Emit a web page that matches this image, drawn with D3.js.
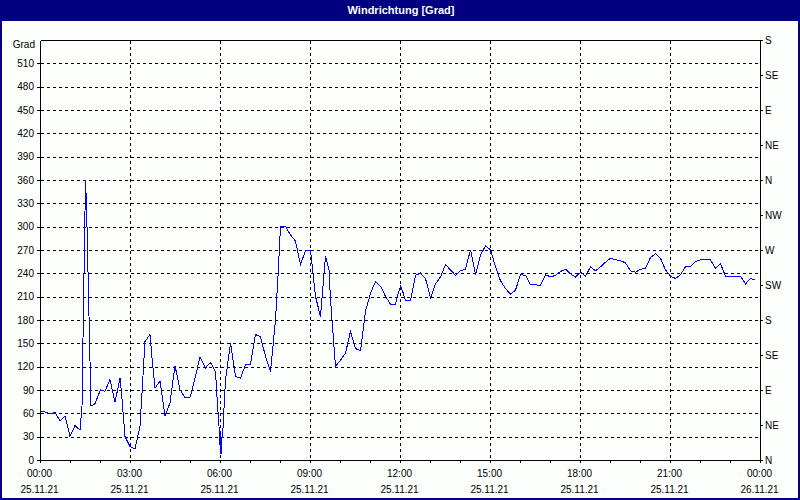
<!DOCTYPE html>
<html><head><meta charset="utf-8">
<script src="https://cdn.jsdelivr.net/npm/d3@7/dist/d3.min.js"></script>
<style>
html,body{margin:0;padding:0;background:#fff;}
svg{display:block;}
text{font-family:"Liberation Sans",Arial,sans-serif;font-size:10px;fill:#000;}
</style></head>
<body>
<svg id="chart" width="800" height="500"></svg>
<script>
const title = "Windrichtung [Grad]";
const unitLabel = "Grad";
const minutes = [0,5,10,20,29,39,49,59,69,79,83,86,90,92,96,101,109,120,129,133,139,149,159,162,169,179,189,199,203,209,219,224,229,239,249,259,269,279,289,299,309,319,330,340,350,353,357,359,360,361,362,365,370,380,390,400,410,420,430,440,450,460,470,475,480,490,500,510,520,530,540,550,560,570,577,580,590,600,610,620,630,640,650,660,670,680,690,700,710,713,720,725,730,740,750,760,770,780,790,800,810,820,830,840,850,860,870,880,890,900,910,920,930,940,950,960,970,980,990,1000,1010,1020,1030,1040,1050,1060,1070,1080,1090,1100,1110,1120,1130,1140,1150,1160,1170,1180,1190,1200,1210,1220,1230,1240,1250,1260,1270,1280,1290,1300,1310,1320,1330,1340,1350,1360,1370,1380,1390,1400,1410,1420,1430];
const grad = [62,63,62,60,62,51,57,31,45,39,70,200,360,330,215,70,73,91,89,95,104,75,106,87,31,18,15,44,87,153,162,125,93,102,57,74,122,91,81,81,106,133,119,126,114,82,44,20,38,8,22,42,104,151,108,106,123,124,162,159,134,114,181,237,301,301,290,282,252,270,270,211,185,263,245,207,121,129,138,166,144,141,192,215,230,224,211,201,200,210,224,216,206,206,238,241,234,209,227,236,252,245,238,244,246,271,239,264,276,271,249,231,221,214,219,239,238,226,226,225,239,236,238,243,246,240,236,242,237,249,244,249,255,260,258,257,254,244,242,246,247,261,266,260,245,237,234,239,249,249,256,258,259,258,247,253,237,237,237,237,227,234,232];
const yTicks = [0,30,60,90,120,150,180,210,240,270,300,330,360,390,420,450,480,510];
const compassDeg = [0,45,90,135,180,225,270,315,360,405,450,495,540];
const compassLabels = ["N","NE","E","SE","S","SW","W","NW","N","NE","E","SE","S"];
const timeTicks = [0,180,360,540,720,900,1080,1260,1440];
const timeLabels = ["00:00","03:00","06:00","09:00","12:00","15:00","18:00","21:00","00:00"];
const dateLabels = ["25.11.21","25.11.21","25.11.21","25.11.21","25.11.21","25.11.21","25.11.21","25.11.21","26.11.21"];
const hourTicks = d3.range(0,1441,60);

const svg = d3.select("#chart");
const navy = "#000080";
svg.append("rect").attr("x",0).attr("y",0).attr("width",800).attr("height",500).attr("fill",navy);
svg.append("rect").attr("x",2).attr("y",21).attr("width",796).attr("height",477).attr("fill","#fcfffc");
svg.append("text").attr("x",401).attr("y",14).attr("text-anchor","middle")
  .style("fill","#fff").style("font-weight","bold").style("font-size","11px").text(title);

const xA = d3.scaleLinear().domain([0,1440]).range([40,760]);
const yA = d3.scaleLinear().domain([0,540]).range([460,40]);
const x = d3.scaleLinear().domain([0,1440]).range([40.5,760.5]);
const y = d3.scaleLinear().domain([0,540]).range([460.5,40.5]);

const g = svg.append("g").attr("shape-rendering","crispEdges");
g.selectAll(".hg").data(yTicks.filter(v=>v>0)).enter().append("line")
  .attr("x1",x(0)).attr("x2",x(1440)).attr("y1",d=>y(d)).attr("y2",d=>y(d))
  .attr("stroke","#000").attr("stroke-dasharray","3,3");
g.selectAll(".vg").data(timeTicks.slice(1,-1)).enter().append("line")
  .attr("x1",d=>x(d)).attr("x2",d=>x(d)).attr("y1",y(540)).attr("y2",y(0))
  .attr("stroke","#000").attr("stroke-dasharray","3,3");
g.append("line").attr("x1",x(0)).attr("x2",x(1440)).attr("y1",y(540)).attr("y2",y(540)).attr("stroke","#000");

const la = svg.append("g").attr("transform","translate(40,0)")
  .call(d3.axisLeft(yA).tickValues(yTicks).tickSize(3).tickPadding(3));
la.attr("font-family",null).attr("font-size",null).attr("shape-rendering","crispEdges");
la.select(".domain").attr("d","M0.5,40.5V460.5");

const ra = svg.append("g").attr("transform","translate(760,0)")
  .call(d3.axisRight(yA).tickValues(compassDeg).tickFormat((d,i)=>compassLabels[i]).tickSize(3).tickPadding(2));
ra.attr("font-family",null).attr("font-size",null).attr("shape-rendering","crispEdges");
ra.select(".domain").attr("d","M0.5,40.5V460.5");

const ba = svg.append("g").attr("transform","translate(0,460)")
  .call(d3.axisBottom(xA).tickValues(hourTicks).tickSize(3).tickFormat(""));
ba.attr("shape-rendering","crispEdges");
ba.select(".domain").attr("d","M40.5,0.5H760.5");

svg.selectAll(".tl").data(timeTicks).enter().append("text")
  .attr("x",d=>x(d)-1).attr("y",477).attr("text-anchor","middle")
  .text((d,i)=>timeLabels[i]);
svg.selectAll(".dl").data(timeTicks).enter().append("text")
  .attr("x",d=>x(d)-1).attr("y",493).attr("text-anchor","middle")
  .text((d,i)=>dateLabels[i]);
svg.append("text").attr("x",35).attr("y",48).attr("text-anchor","end").text(unitLabel);

const line = d3.line().x((d,i)=>x(minutes[i])).y(d=>y(d));
svg.append("path").datum(grad).attr("d",line).attr("fill","none")
  .attr("stroke","#0000ff").attr("stroke-width",1).attr("shape-rendering","crispEdges");
</script>
</body></html>
